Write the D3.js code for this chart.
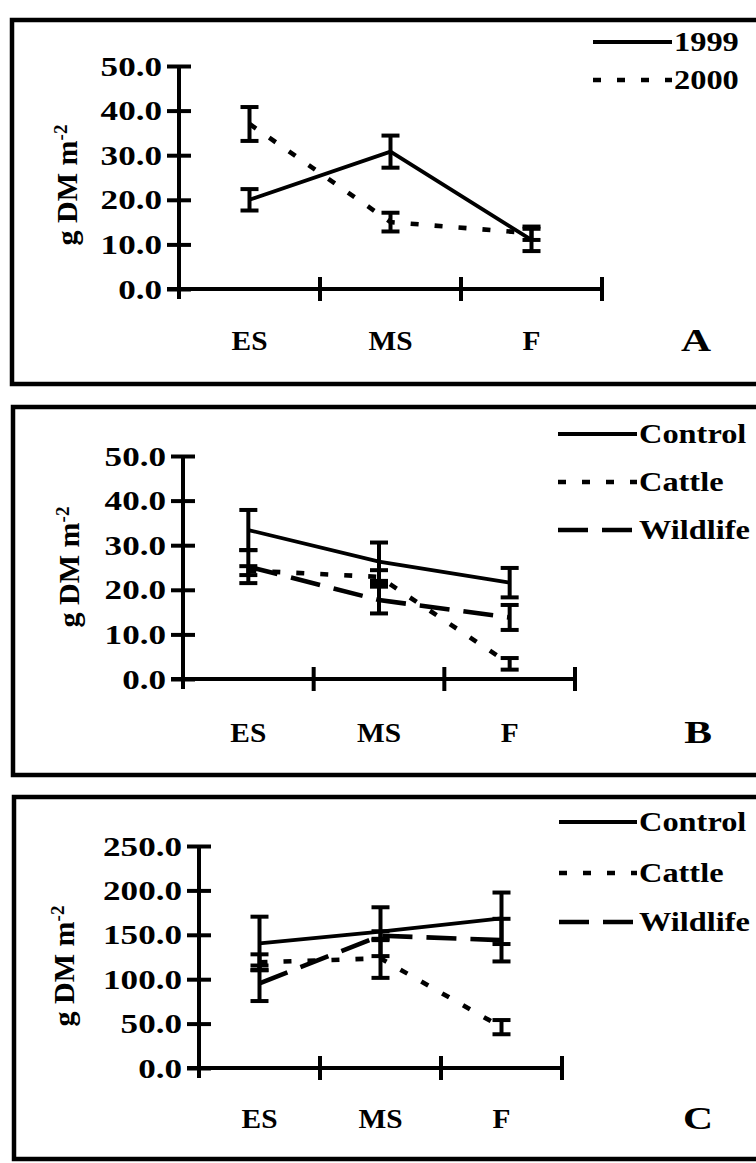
<!DOCTYPE html>
<html>
<head>
<meta charset="utf-8">
<script src="https://cdn.jsdelivr.net/npm/d3@7"></script>
<style>
  body { margin: 0; background: #fff; }
  svg { display: block; }
  text { font-family: "Liberation Serif", "Times New Roman", serif; font-weight: bold; fill: #000; }
</style>
</head>
<body>
<svg id="fig" width="756" height="1163"></svg>
<script>
// Sampling stages
const stages = ["ES", "MS", "F"];

// Panel A: standing biomass by year
const yearNames = ["1999", "2000"];
const a1999 = [20.0, 30.8, 11.0];
const a1999Err = [2.4, 3.6, 2.5];
const a2000 = [37.0, 15.0, 12.5];
const a2000Err = [3.8, 2.1, 1.5];
const aTicks = [0, 10, 20, 30, 40, 50];

// Panel B: grazing treatments
const treatNames = ["Control", "Cattle", "Wildlife"];
const bControl = [33.4, 26.3, 21.6];
const bControlErr = [4.5, 4.3, 3.3];
const bCattle = [24.3, 22.9, 3.4];
const bCattleErr = [1.0, 1.5, 1.3];
const bWildlife = [25.2, 17.7, 13.8];
const bWildlifeErr = [3.7, 3.0, 2.8];
const bTicks = [0, 10, 20, 30, 40, 50];

// Panel C: grazing treatments
const cControl = [140.4, 153.5, 168.6];
const cControlErr = [30.0, 27.5, 29.0];
const cCattle = [119.0, 123.5, 46.0];
const cCattleErr = [9.0, 22.0, 8.0];
const cWildlife = [95.4, 149.0, 144.0];
const cWildlifeErr = [20.0, 5.0, 24.0];
const cTicks = [0, 50, 100, 150, 200, 250];

const panelLetters = ["A", "B", "C"];

// Line styles
const STYLE = {
  solid:  { dash: null,    width: 3.8 },
  dotted: { dash: "8 16",  width: 4.6 },
  dashed: { dash: "30 14", width: 4.6 }
};

const svg = d3.select("#fig");
const TICK_SX = 1.3;
const LEGEND_SX = 1.2;

function stretchedText(g, x, y, str, anchor, size, sx) {
  return g.append("text")
    .attr("transform", `translate(${x},${y}) scale(${sx},1)`)
    .attr("text-anchor", anchor)
    .style("font-size", size + "px")
    .text(str);
}

function drawPanel(cfg) {
  const g = svg.append("g");

  // panel border (right edge runs off the page)
  g.append("rect")
    .attr("x", cfg.frame.x).attr("y", cfg.frame.y)
    .attr("width", 800).attr("height", cfg.frame.h)
    .attr("fill", "none").attr("stroke", "#000").attr("stroke-width", 4.5);

  const x = d3.scaleBand().domain(stages).range([cfg.x0, cfg.x1]).padding(0);
  const y = d3.scaleLinear().domain([0, d3.max(cfg.ticks)]).range([cfg.yBot, cfg.yTop]);
  const cx = d => x(d) + x.bandwidth() / 2;

  // y axis
  const yAxis = d3.axisLeft(y).tickValues(cfg.ticks).tickFormat(d3.format(".1f")).tickSize(12);
  const ya = g.append("g").attr("transform", `translate(${cfg.x0},0)`).call(yAxis);
  ya.select(".domain").remove();
  ya.selectAll(".tick line").attr("x1", -12).attr("x2", 12)
    .attr("stroke", "#000").attr("stroke-width", 4);
  ya.selectAll(".tick text")
    .attr("x", 0).attr("dy", "0.34em")
    .attr("transform", `translate(-17,0) scale(${TICK_SX},1)`)
    .attr("text-anchor", "end")
    .style("font-size", "27px");
  ya.append("line")
    .attr("x1", 0).attr("x2", 0).attr("y1", cfg.yTop).attr("y2", cfg.yBot + 10)
    .attr("stroke", "#000").attr("stroke-width", 4);

  // x axis with ticks on category boundaries
  g.append("line")
    .attr("x1", cfg.x0 - 12).attr("x2", cfg.x1).attr("y1", cfg.yBot).attr("y2", cfg.yBot)
    .attr("stroke", "#000").attr("stroke-width", 4);
  g.selectAll(".xtick").data(stages).join("line")
    .attr("x1", d => x(d) + x.bandwidth()).attr("x2", d => x(d) + x.bandwidth())
    .attr("y1", cfg.yBot - 12).attr("y2", cfg.yBot + 12)
    .attr("stroke", "#000").attr("stroke-width", 4);

  // category labels
  stages.forEach(s => stretchedText(g, cx(s), cfg.catY, s, "middle", 28, 1.05));

  // y title
  const t = g.append("text")
    .attr("transform", `translate(${cfg.titleX},${cfg.titleY}) rotate(-90)`)
    .attr("text-anchor", "middle")
    .style("font-size", "30px");
  t.append("tspan").text("g DM m");
  t.append("tspan").attr("dy", "-0.55em").style("font-size", "19px").text("-2");

  // series lines
  const line = d3.line().x((d, i) => cx(stages[i])).y(d => y(d));
  cfg.series.forEach(s => {
    const st = STYLE[s.style];
    g.append("path").datum(s.values)
      .attr("d", line)
      .attr("fill", "none").attr("stroke", "#000")
      .attr("stroke-width", st.width)
      .attr("stroke-dasharray", st.dash);
  });

  // error bars
  cfg.series.forEach(s => {
    s.values.forEach((v, i) => {
      const px = cx(stages[i]);
      const top = y(v + s.err[i]), bot = y(v - s.err[i]);
      g.append("line").attr("x1", px).attr("x2", px).attr("y1", top).attr("y2", bot)
        .attr("stroke", "#000").attr("stroke-width", 4);
      [top, bot].forEach(yy => g.append("line")
        .attr("x1", px - 9).attr("x2", px + 9).attr("y1", yy).attr("y2", yy)
        .attr("stroke", "#000").attr("stroke-width", 4));
    });
  });

  // legend
  cfg.series.forEach((s, i) => {
    const ly = cfg.legY[i];
    const st = STYLE[s.style];
    g.append("line")
      .attr("x1", cfg.legX0).attr("x2", cfg.legX1).attr("y1", ly).attr("y2", ly)
      .attr("stroke", "#000").attr("stroke-width", st.width)
      .attr("stroke-dasharray", st.dash);
    stretchedText(g, cfg.legX1 + 2, ly + 9, s.name, "start", 27, LEGEND_SX);
  });

  // panel letter
  stretchedText(g, cfg.letterX, cfg.catY + 1, cfg.letter, "middle", 32, 1.3);
}

drawPanel({
  frame: { x: 12, y: 20, h: 364 },
  x0: 179, x1: 602, yTop: 66, yBot: 289,
  ticks: aTicks, catY: 350, titleX: 77, titleY: 185,
  legX0: 593, legX1: 672, legY: [42, 80],
  letter: panelLetters[0], letterX: 696,
  series: [
    { name: yearNames[0], values: a1999, err: a1999Err, style: "solid" },
    { name: yearNames[1], values: a2000, err: a2000Err, style: "dotted" }
  ]
});

drawPanel({
  frame: { x: 13, y: 407, h: 368 },
  x0: 183, x1: 575, yTop: 456, yBot: 679,
  ticks: bTicks, catY: 742, titleX: 79, titleY: 567,
  legX0: 558, legX1: 637, legY: [434, 482, 530],
  letter: panelLetters[1], letterX: 698,
  series: [
    { name: treatNames[0], values: bControl, err: bControlErr, style: "solid" },
    { name: treatNames[1], values: bCattle, err: bCattleErr, style: "dotted" },
    { name: treatNames[2], values: bWildlife, err: bWildlifeErr, style: "dashed" }
  ]
});

drawPanel({
  frame: { x: 14, y: 797, h: 362 },
  x0: 199, x1: 562, yTop: 846, yBot: 1068,
  ticks: cTicks, catY: 1128, titleX: 74, titleY: 966,
  legX0: 559, legX1: 637, legY: [822, 873, 922],
  letter: panelLetters[2], letterX: 698,
  series: [
    { name: treatNames[0], values: cControl, err: cControlErr, style: "solid" },
    { name: treatNames[1], values: cCattle, err: cCattleErr, style: "dotted" },
    { name: treatNames[2], values: cWildlife, err: cWildlifeErr, style: "dashed" }
  ]
});
</script>
</body>
</html>
